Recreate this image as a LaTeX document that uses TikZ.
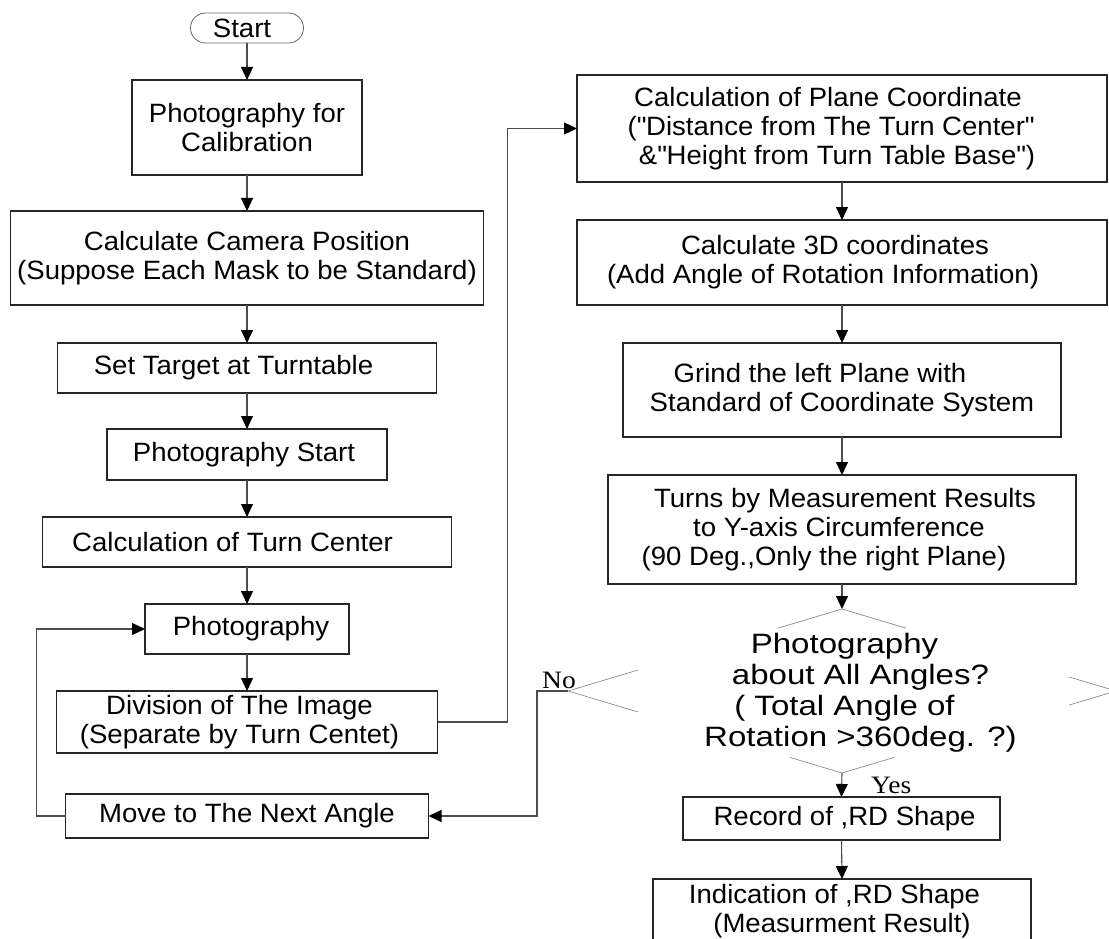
\documentclass[tikz,border=0pt]{standalone}
\usepackage{fontspec}
\setmainfont{Liberation Sans}[FakeStretch=1.04]
\newfontfamily\dfont{Liberation Sans}[FakeStretch=1.18]
\newfontfamily\tfont{Liberation Serif}[FakeStretch=1.1]
\usetikzlibrary{arrows.meta,shapes.geometric,calc}
\newcommand\padr[1]{\hspace*{#1}\mbox{}}
\newcommand\padl[1]{\mbox{}\hspace*{#1}}
\newcommand\qq{\textquotedbl}
\tikzset{
  box/.style={draw=black!85, line width=1.1pt, inner sep=0pt, outer sep=0pt,
    align=center, font=\fontsize{26.5}{29}\selectfont},
  startbox/.style={draw=black!60, line width=0.8pt, rounded corners=15pt, inner sep=0pt,
    outer sep=0pt, font=\fontsize{26.5}{29}\selectfont},
  conn/.style={draw=black!70, line width=1.1pt, -{Triangle[length=13pt,width=12pt,color=black]}},
  dline/.style={draw=black!45, line width=0.7pt},
  yn/.style={font=\tfont\fontsize{25}{27}\selectfont, inner sep=0pt},
}
\begin{document}
\begin{tikzpicture}[x=1pt,y=-1pt]
\useasboundingbox (0,0) rectangle (1109,939);
% left column
\node[startbox, minimum width=113pt, minimum height=30pt] (st) at (247,28) {Start\padr{10pt}};
\node[box, minimum width=230pt, minimum height=95pt] (pc) at (247,127.5) {Photography for\\Calibration};
\node[box, minimum width=473pt, minimum height=94pt] (cc) at (247,258) {Calculate Camera Position\\(Suppose Each Mask to be Standard)};
\node[box, minimum width=379pt, minimum height=50pt] (tg) at (247,368) {Set Target at Turntable\padr{27pt}};
\node[box, minimum width=280pt, minimum height=51pt] (ps) at (247,454.5) {Photography Start\padr{6pt}};
\node[box, minimum width=409pt, minimum height=50pt] (tc) at (247,542) {Calculation of Turn Center\padr{29pt}};
\node[box, minimum width=204pt, minimum height=50pt] (ph) at (247,629) {\padl{8pt}Photography};
\node[box, minimum width=381pt, minimum height=62pt] (dv) at (247,722) {Division of The Image\padr{15pt}\\(Separate by Turn Centet)\padr{15pt}};
\node[box, minimum width=363pt, minimum height=44pt] (mv) at (247,816) {Move to The Next Angle};
% right column
\node[box, minimum width=530pt, minimum height=107pt] (pl) at (842,128.5) {Calculation of Plane Coordinate\padr{28pt}\\(\qq Distance from The Turn Center\qq\padr{22pt}\\\&\qq Height from Turn Table Base\qq)\padr{10pt}};
\node[box, minimum width=530pt, minimum height=85pt] (c3) at (842,262.5) {Calculate 3D coordinates\padr{14pt}\\(Add Angle of Rotation Information)\padr{38pt}};
\node[box, minimum width=438pt, minimum height=94pt] (gr) at (842,390) {Grind the left Plane with\padr{44pt}\\Standard of Coordinate System};
\node[box, minimum width=468pt, minimum height=109pt] (tu) at (842,529.5) {\padl{6pt}Turns by Measurement Results\\to Y-axis Circumference\padr{6pt}\\(90 Deg.,Only the right Plane)\padr{36pt}};
\node[diamond, minimum width=548pt, minimum height=164pt, inner sep=0pt, outer sep=0pt] (d) at (842,691) {};
\node[align=center, inner sep=0pt, font=\dfont\fontsize{28}{31}\selectfont] (dt) at (844.5,693)
  {Photography\\\padl{32pt}about All Angles?\\( Total Angle of\\\padl{32pt}Rotation >360deg. ?)};
\node[box, minimum width=317pt, minimum height=43pt] (rec) at (841.5,818.5) {\padl{6pt}Record of ,RD Shape};
\node[box, minimum width=378pt, minimum height=65pt] (ind) at (842,911.5) {Indication of ,RD Shape\padr{15pt}\\(Measurment Result)};
% diamond outline pieces
\draw[dline] ($(d.west)!0.255!(d.north)$) -- (d.west) -- ($(d.west)!0.255!(d.south)$);
\draw[dline] ($(d.north)!0.234!(d.west)$) -- (d.north) -- ($(d.north)!0.234!(d.east)$);
\draw[dline] ($(d.south)!0.19!(d.west)$) -- (d.south) -- ($(d.south)!0.19!(d.east)$);
\draw[dline] ($(d.east)!0.172!(d.north)$) -- ($(d.east)!0.026!(d.north)$);
\draw[dline] ($(d.east)!0.172!(d.south)$) -- ($(d.east)!0.026!(d.south)$);
% labels
\node[yn, anchor=base west] (no) at (542,688) {No};
\node[yn, anchor=base west] (yes) at (871,793) {Yes};
% connectors
\draw[conn] (st.south) -- (pc.north);
\draw[conn] (pc.south) -- (cc.north);
\draw[conn] (cc.south) -- (tg.north);
\draw[conn] (tg.south) -- (ps.north);
\draw[conn] (ps.south) -- (tc.north);
\draw[conn] (tc.south) -- (ph.north);
\draw[conn] (ph.south) -- (dv.north);
\draw[conn] (mv.west) -- ++(-29,0) |- (ph.west);
\draw[conn] (dv.east) -- ++(70,0) |- (pl.west);
\draw[conn] (pl.south) -- (c3.north);
\draw[conn] (c3.south) -- (gr.north);
\draw[conn] (gr.south) -- (tu.north);
\draw[conn] (tu.south) -- (d.north);
\draw[conn] (d.south) -- (rec.north);
\draw[conn] (rec.south) -- (ind.north);
\draw[conn] (d.west) -- ++(-31,0) |- (mv.east);
\end{tikzpicture}
\end{document}
